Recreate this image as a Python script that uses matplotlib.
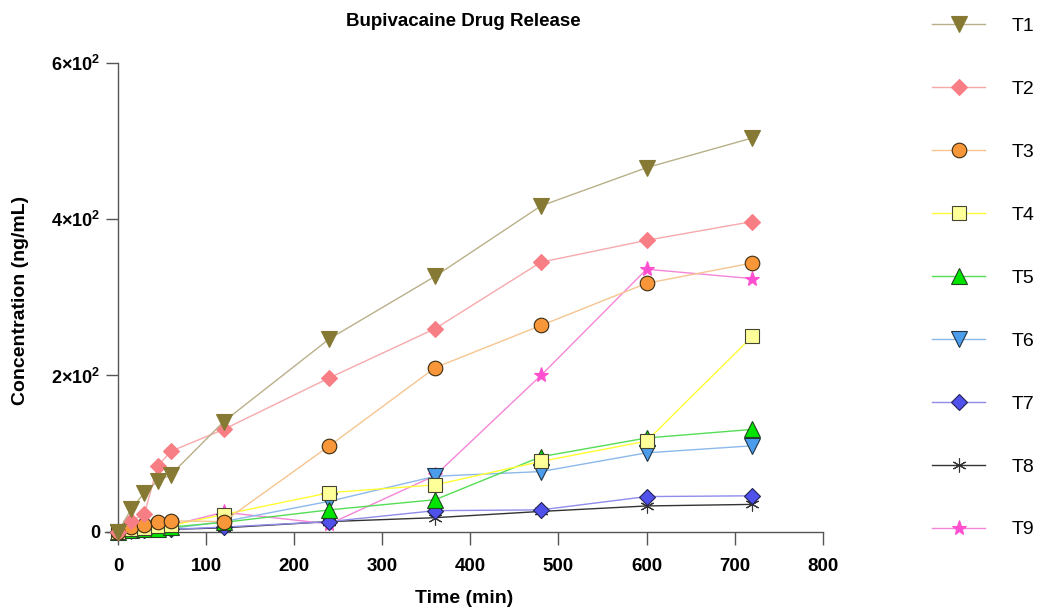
import numpy as np
import matplotlib.pyplot as plt

plt.rcParams['font.family'] = ['Liberation Sans', 'DejaVu Sans']
plt.rcParams['mathtext.fontset'] = 'custom'
plt.rcParams['mathtext.rm'] = 'Liberation Sans'
plt.rcParams['mathtext.bf'] = 'Liberation Sans:bold'

time_min = [0, 15, 30, 45, 60, 120, 240, 360, 480, 600, 720]

t1 = [0, 29, 50, 65, 73, 141, 247, 327, 417, 466, 504]
t2 = [0, 14, 23, 84, 103, 131, 197, 260, 345, 373, 397]
t3 = [0, 6, 9, 12, 14, 13, 110, 210, 264, 318, 344]
t4 = [0, 3, 5, 7, 8, 22, 50, 60, 90, 116, 250]
t5 = [0, 2, 3, 4, 6, 12, 28, 41, 96, 120, 131]
t6 = [0, 1, 2, 3, 4, 13, 39, 71, 77, 101, 110]
t7 = [0, 2, 2, 3, 3, 6, 13, 27, 28, 45, 46]
t8 = [0, 1, 2, 2, 3, 5, 13, 18, 26, 33, 35]
t9 = [0, 3, 5, 6, 8, 25, 10, 72, 200, 336, 324]

labels = ['T1', 'T2', 'T3', 'T4', 'T5', 'T6', 'T7', 'T8', 'T9']
series = [t1, t2, t3, t4, t5, t6, t7, t8, t9]
ytick_vals = [0, 200, 400, 600]
ytick_labels = ['0', r'2×10$^{\mathbf{2}}$', r'4×10$^{\mathbf{2}}$', r'6×10$^{\mathbf{2}}$']

# marker, marker face, edge, line colour, size
styles = [
    ('v', '#857933', '#857933', '#B9B08A', 11),
    ('D', '#F77E84', '#F77E84', '#F7A9AC', 8),
    ('o', '#F7973A', '#3a2a10', '#F6C590', 10.5),
    ('s', '#FFFF99', '#444433', '#FFFF33', 10),
    ('^', '#00E400', '#224422', '#55DD55', 11),
    ('v', '#4B9DEB', '#223344', '#8DB9EA', 11),
    ('D', '#5050EA', '#222255', '#8F8CEC', 8),
    ((6, 2, 0), 'none', '#333333', '#333333', 10),
    ('*', '#FF4FD0', '#FF4FD0', '#F585D8', 11),
]

fig = plt.figure(figsize=(10.42, 6.09), dpi=100)
ax = fig.add_axes([0.1006, 0.1166, 0.689, 0.78])

n = len(labels)
for i, (lab, vals, (mk, fc, ec, lc, ms)) in enumerate(zip(labels, series, styles)):
    # first series on top, like the original
    ax.plot(time_min, vals, color=lc, lw=1, marker=mk, ms=ms, mfc=fc,
            mec=ec, mew=0.8, label=lab, clip_on=False, zorder=3 + n - i)

ax.set_xlim(-15, 800)
ax.set_ylim(-8, 600)
ax.spines['left'].set_position(('data', 0))
ax.spines['bottom'].set_position(('data', 0))
ax.spines['top'].set_visible(False)
ax.spines['right'].set_visible(False)
for sp in ['left', 'bottom']:
    ax.spines[sp].set_color('#555555')
    ax.spines[sp].set_linewidth(1)

ax.set_xticks(range(0, 801, 100))
ax.set_yticks(ytick_vals)
ax.set_yticklabels(ytick_labels)
ax.tick_params(direction='out', length=9, width=1, color='#555555',
               labelsize=13.5)
ax.tick_params(axis='x', pad=10)
ax.tick_params(axis='y', pad=4, labelsize=13)
for lbl in ax.get_xticklabels() + ax.get_yticklabels():
    lbl.set_fontweight('bold')

ax.set_title('Bupivacaine Drug Release', fontsize=13.5, fontweight='bold', pad=26.5)
ax.set_xlabel('Time (min)', fontsize=14, fontweight='bold')
ax.set_ylabel('Concentration (ng/mL)', fontsize=14, fontweight='bold')
ax.xaxis.set_label_coords(0.5, -0.11)
ax.yaxis.set_label_coords(-0.105, 0.5)

fig.legend(loc='upper left', bbox_to_anchor=(0.878, 1.0), frameon=False,
           fontsize=14, labelspacing=2.33, handlelength=2.7,
           handletextpad=1.4)

plt.savefig('out.png', dpi=100)
